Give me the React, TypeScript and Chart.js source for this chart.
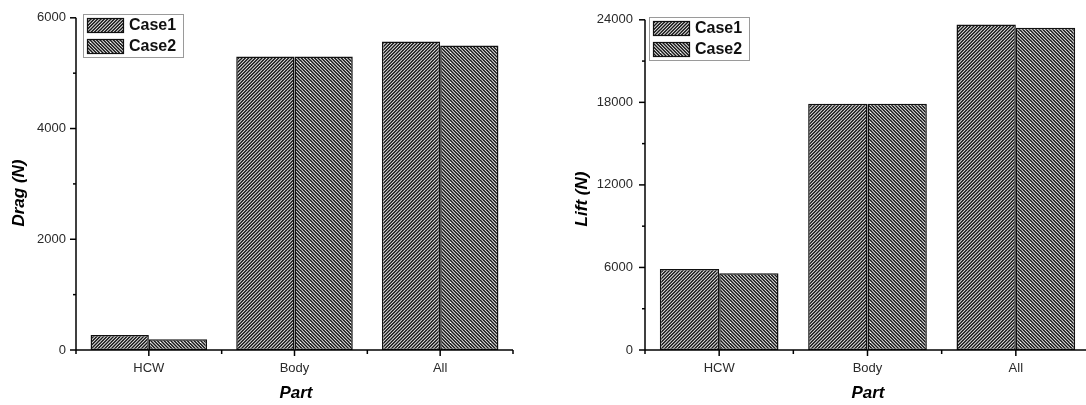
import { useEffect, useRef } from "react";
import { Chart, registerables } from "chart.js";

Chart.register(...registerables);

// Parts of the vehicle and the two load cases
const parts = ["HCW", "Body", "All"];
const seriesNames = ["Case1", "Case2"];

// Drag force (N)
const dragCase1 = [270, 5300, 5570];
const dragCase2 = [195, 5300, 5500];
const dragTicks = [0, 2000, 4000, 6000];

// Lift force (N)
const liftCase1 = [5880, 17900, 23660];
const liftCase2 = [5570, 17900, 23420];
const liftTicks = [0, 6000, 12000, 18000, 24000];

const FONT = "'Liberation Sans', Arial, Helvetica, sans-serif";

// Dense 45° hatch; dir 1 = "////", dir -1 = "\\\\"
function makeHatch(dir: number): CanvasPattern | string {
  const size = 10;
  const c = document.createElement("canvas");
  c.width = size;
  c.height = size;
  const g = c.getContext("2d");
  if (!g) return "#777";
  g.fillStyle = "#ffffff";
  g.fillRect(0, 0, size, size);
  g.strokeStyle = "#1a1a1a";
  g.lineWidth = 1.55;
  const step = size / 3;
  for (let k = -6; k <= 12; k++) {
    const c0 = k * step;
    g.beginPath();
    if (dir === 1) {
      g.moveTo(c0 + 2, -2);
      g.lineTo(c0 - size - 2, size + 2);
    } else {
      g.moveTo(c0 - 2, -2);
      g.lineTo(c0 + size + 2, size + 2);
    }
    g.stroke();
  }
  const ctx = document.createElement("canvas").getContext("2d");
  return (ctx && ctx.createPattern(c, "repeat")) || "#777";
}

interface PanelProps {
  values1: number[];
  values2: number[];
  ticks: number[];
  yTitle: string;
  yWidth: number;
  padRight: number;
  labelPad: number;
  yTitlePos: [number, number];
  xTitlePos: [number, number];
  legendPos: [number, number];
  left: number;
  width: number;
}

function Panel(props: PanelProps) {
  const ref = useRef<HTMLCanvasElement>(null);

  useEffect(() => {
    if (!ref.current) return;
    const hatchA = makeHatch(1);
    const hatchB = makeHatch(-1);
    const fills = [hatchA, hatchB];
    const t = props.ticks;

    const frame = {
      id: "frame",
      afterDraw(chart: any) {
        const { ctx, chartArea: a, scales } = chart;
        const x = scales.x;
        const y = scales.y;
        const seg = (x1: number, y1: number, x2: number, y2: number) => {
          ctx.beginPath();
          ctx.moveTo(x1, y1);
          ctx.lineTo(x2, y2);
          ctx.stroke();
        };
        ctx.save();
        ctx.strokeStyle = "#000";
        ctx.lineWidth = 1.5;
        // axis lines
        seg(a.left, a.bottom + 4, a.left, a.top);
        seg(a.left, a.bottom, a.right, a.bottom);
        // y ticks: major at labels, minor halfway
        t.forEach((v, i) => {
          const py = y.getPixelForValue(v);
          seg(a.left - 6, py, a.left, py);
          if (i < t.length - 1) {
            const pm = y.getPixelForValue((v + t[i + 1]) / 2);
            seg(a.left - 3, pm, a.left, pm);
          }
        });
        // x ticks: major at category centres, minor at boundaries
        const n = parts.length;
        for (let i = 0; i < n; i++) {
          const px = x.getPixelForValue(i);
          seg(px, a.bottom, px, a.bottom + 6);
          if (i < n - 1) {
            const pb = (px + x.getPixelForValue(i + 1)) / 2;
            seg(pb, a.bottom, pb, a.bottom + 4);
          }
        }
        seg(a.right, a.bottom, a.right, a.bottom + 4);

        // axis titles
        ctx.fillStyle = "#000";
        ctx.font = `italic bold 17px ${FONT}`;
        ctx.textAlign = "center";
        ctx.textBaseline = "middle";
        ctx.fillText("Part", props.xTitlePos[0], props.xTitlePos[1]);
        ctx.save();
        ctx.translate(props.yTitlePos[0], props.yTitlePos[1]);
        ctx.rotate(-Math.PI / 2);
        ctx.fillText(props.yTitle, 0, 0);
        ctx.restore();

        // legend
        const [lx, ly] = props.legendPos;
        ctx.strokeStyle = "#9a9a9a";
        ctx.lineWidth = 1;
        ctx.fillStyle = "#fff";
        ctx.fillRect(lx, ly, 100, 43);
        ctx.strokeRect(lx + 0.5, ly + 0.5, 100, 43);
        seriesNames.forEach((name, i) => {
          const sx = lx + 4;
          const sy = ly + 4 + i * 21;
          ctx.fillStyle = fills[i] as any;
          ctx.fillRect(sx, sy, 37, 15);
          ctx.strokeStyle = "#111";
          ctx.lineWidth = 1.2;
          ctx.strokeRect(sx + 0.5, sy + 0.5, 36, 14);
          ctx.fillStyle = "#111";
          ctx.font = `bold 16px ${FONT}`;
          ctx.textAlign = "left";
          ctx.textBaseline = "middle";
          ctx.fillText(name, sx + 42, sy + 8);
        });
        ctx.restore();
      },
    };

    const chart = new Chart(ref.current, {
      type: "bar",
      data: {
        labels: parts,
        datasets: [
          {
            label: seriesNames[0],
            data: props.values1,
            backgroundColor: hatchA as any,
            borderColor: "#111",
            borderWidth: 1.5,
            borderSkipped: false,
            categoryPercentage: 0.8,
            barPercentage: 1,
          },
          {
            label: seriesNames[1],
            data: props.values2,
            backgroundColor: hatchB as any,
            borderColor: "#111",
            borderWidth: 1.5,
            borderSkipped: false,
            categoryPercentage: 0.8,
            barPercentage: 1,
          },
        ],
      },
      options: {
        animation: false,
        responsive: false,
        maintainAspectRatio: false,
        devicePixelRatio: 1,
        layout: { padding: { top: 15, right: props.padRight, left: 0, bottom: 0 } },
        plugins: { legend: { display: false }, tooltip: { enabled: false } },
        scales: {
          x: {
            type: "category",
            offset: true,
            grid: { display: false, drawTicks: false },
            border: { display: false },
            ticks: {
              padding: 11,
              color: "#2a2a2a",
              font: { family: FONT, size: 13 },
              maxRotation: 0,
            },
            afterFit: (s: any) => {
              s.height = 55;
            },
          },
          y: {
            min: t[0],
            max: t[t.length - 1],
            grid: { display: false, drawTicks: false },
            border: { display: false },
            ticks: {
              padding: props.labelPad,
              color: "#2a2a2a",
              font: { family: FONT, size: 13 },
              callback: (v: any) => String(v),
            },
            afterBuildTicks: (s: any) => {
              s.ticks = t.map((v) => ({ value: v }));
            },
            afterFit: (s: any) => {
              s.width = props.yWidth;
            },
          },
        },
      },
      plugins: [frame],
    });
    return () => chart.destroy();
  }, []);

  return (
    <canvas
      ref={ref}
      width={props.width}
      height={405}
      style={{ position: "absolute", left: props.left, top: 0, display: "block" }}
    />
  );
}

export default function App() {
  return (
    <div
      style={{
        position: "absolute",
        left: 0,
        top: 0,
        width: 1086,
        height: 405,
        overflow: "hidden",
        background: "#fff",
      }}
    >
      <Panel
        values1={dragCase1}
        values2={dragCase2}
        ticks={dragTicks}
        yTitle="Drag (N)"
        yWidth={76}
        padRight={27}
        labelPad={10}
        yTitlePos={[19, 193]}
        xTitlePos={[296, 393]}
        legendPos={[83, 14]}
        left={0}
        width={540}
      />
      <Panel
        values1={liftCase1}
        values2={liftCase2}
        ticks={liftTicks}
        yTitle="Lift (N)"
        yWidth={85}
        padRight={10}
        labelPad={12}
        yTitlePos={[22, 199]}
        xTitlePos={[308, 393]}
        legendPos={[89, 17]}
        left={560}
        width={540}
      />
    </div>
  );
}
